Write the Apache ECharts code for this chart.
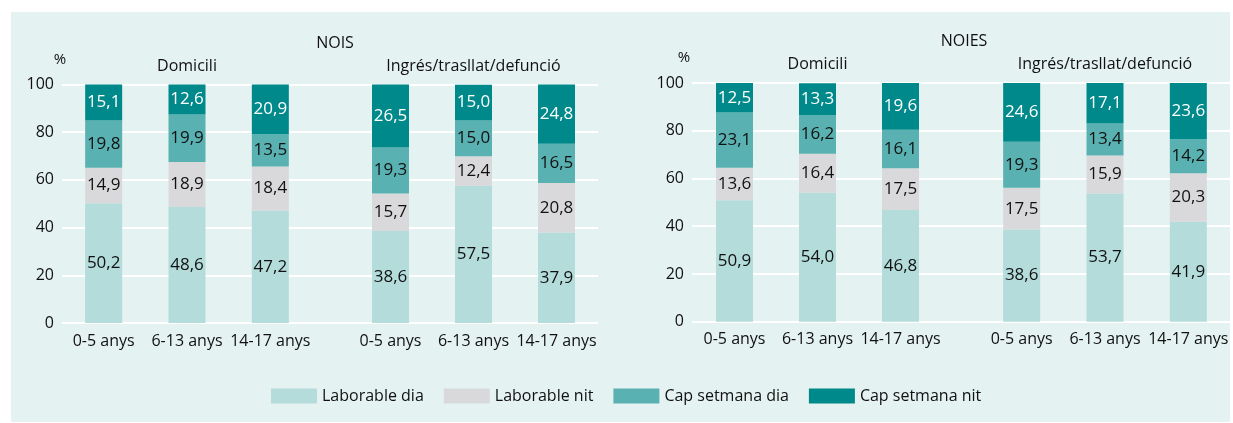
<!DOCTYPE html>
<html>
<head>
<meta charset="utf-8">
<script src="https://cdn.jsdelivr.net/npm/echarts@6/dist/echarts.min.js"></script>
<style>
  html, body { margin: 0; padding: 0; background: #ffffff; }
  #chart { width: 1233px; height: 423px; }
</style>
</head>
<body>
<div id="chart"></div>
<script>
// categories
const ageGroups = ['0-5 anys', '6-13 anys', '14-17 anys'];
const seriesNames = ['Laborable dia', 'Laborable nit', 'Cap setmana dia', 'Cap setmana nit'];
const panelTitles = ['NOIS', 'NOIES'];
const groupTitles = ['Domicili', 'Ingrés/trasllat/defunció'];
const yTicks = [0, 20, 40, 60, 80, 100];

// values: one row per series (Laborable dia, Laborable nit, Cap setmana dia, Cap setmana nit)
const noisDomicili = [
  [50.2, 48.6, 47.2],
  [14.9, 18.9, 18.4],
  [19.8, 19.9, 13.5],
  [15.1, 12.6, 20.9]
];
const noisIngres = [
  [38.6, 57.5, 37.9],
  [15.7, 12.4, 20.8],
  [19.3, 15.0, 16.5],
  [26.5, 15.0, 24.8]
];
const noiesDomicili = [
  [50.9, 54.0, 46.8],
  [13.6, 16.4, 17.5],
  [23.1, 16.2, 16.1],
  [12.5, 13.3, 19.6]
];
const noiesIngres = [
  [38.6, 53.7, 41.9],
  [17.5, 15.9, 20.3],
  [19.3, 13.4, 14.2],
  [24.6, 17.1, 23.6]
];

const colors = ['#b3dcdb', '#d9d9db', '#5ab1b1', '#00898a'];
const labelColors = ['#111111', '#111111', '#111111', '#ffffff'];
const FONT = '"Open Sans", "Noto Sans", sans-serif';
const TEXT = '#111111';
const W = 1233, H = 423;

// layout of the two panels: frame grid plus two bar groups each
const panels = [
  { frame: [62, 598], top: 84.5, bottom: 323, groups: [[62, 312], [349, 598]], titleY: 43, groupY: 66, pctX: 60 },
  { frame: [692, 1230], top: 83, bottom: 321.7, groups: [[693, 942], [980, 1230]], titleY: 41, groupY: 64, pctX: 684 }
];
const panelData = [[noisDomicili, noisIngres], [noiesDomicili, noiesIngres]];

const grid = [], xAxis = [], yAxis = [], series = [], graphic = [];

graphic.push({
  type: 'rect', z: -10, silent: true,
  shape: { x: 11, y: 12, width: 1219, height: 410 },
  style: { fill: '#e4f2f1' }
});

panels.forEach((p, pi) => {
  // frame grid: y labels + white gridlines across the whole panel
  const fi = grid.length;
  grid.push({ left: p.frame[0], right: W - p.frame[1], top: p.top, bottom: H - p.bottom });
  xAxis.push({ gridIndex: fi, type: 'category', data: [''], show: false });
  yAxis.push({
    gridIndex: fi, type: 'value', min: yTicks[0], max: yTicks[yTicks.length - 1], interval: 20,
    axisLine: { show: false }, axisTick: { show: false },
    axisLabel: { color: TEXT, fontSize: 16, fontFamily: FONT, margin: 8 },
    splitLine: { lineStyle: { color: '#ffffff', width: 2 } }
  });

  p.groups.forEach((g, gi) => {
    const idx = grid.length;
    grid.push({ left: g[0], right: W - g[1], top: p.top, bottom: H - p.bottom });
    xAxis.push({
      gridIndex: idx, type: 'category', data: ageGroups,
      axisLine: { show: false }, axisTick: { show: false },
      axisLabel: { color: TEXT, fontSize: 16, fontFamily: FONT, margin: 10, interval: 0 }
    });
    yAxis.push({ gridIndex: idx, type: 'value', min: 0, max: 100, show: false, splitLine: { show: false } });

    const rows = panelData[pi][gi];
    rows.forEach((vals, si) => {
      series.push({
        name: seriesNames[si], type: 'bar', stack: 'p' + pi + 'g' + gi,
        xAxisIndex: idx, yAxisIndex: idx, barWidth: 37,
        itemStyle: { color: colors[si] },
        label: {
          show: true, position: 'inside', fontSize: 17, fontFamily: FONT, color: labelColors[si],
          formatter: (d) => d.value.toFixed(1).replace('.', ',')
        },
        data: vals
      });
    });

    graphic.push({
      type: 'text', x: (g[0] + g[1]) / 2, y: p.groupY,
      style: { text: groupTitles[gi], fill: TEXT, fontSize: 16, fontFamily: FONT, align: 'center', verticalAlign: 'middle' }
    });
  });

  graphic.push({
    type: 'text', x: (p.frame[0] + p.frame[1]) / 2 + (pi === 0 ? 5 : 3), y: p.titleY,
    style: { text: panelTitles[pi], fill: TEXT, fontSize: 16, fontFamily: FONT, align: 'center', verticalAlign: 'middle' }
  });
  graphic.push({
    type: 'text', x: p.pctX, y: p.groupY - 6,
    style: { text: '%', fill: TEXT, fontSize: 15, fontFamily: FONT, align: 'center', verticalAlign: 'middle' }
  });
});

const chart = echarts.init(document.getElementById('chart'));
chart.setOption({
  animation: false,
  grid, xAxis, yAxis, series, graphic,
  legend: {
    data: seriesNames, left: 266, top: 383,
    itemWidth: 46, itemHeight: 15, itemGap: 20,
    icon: 'rect',
    textStyle: { color: TEXT, fontSize: 16, fontFamily: FONT }
  }
});
</script>
</body>
</html>
